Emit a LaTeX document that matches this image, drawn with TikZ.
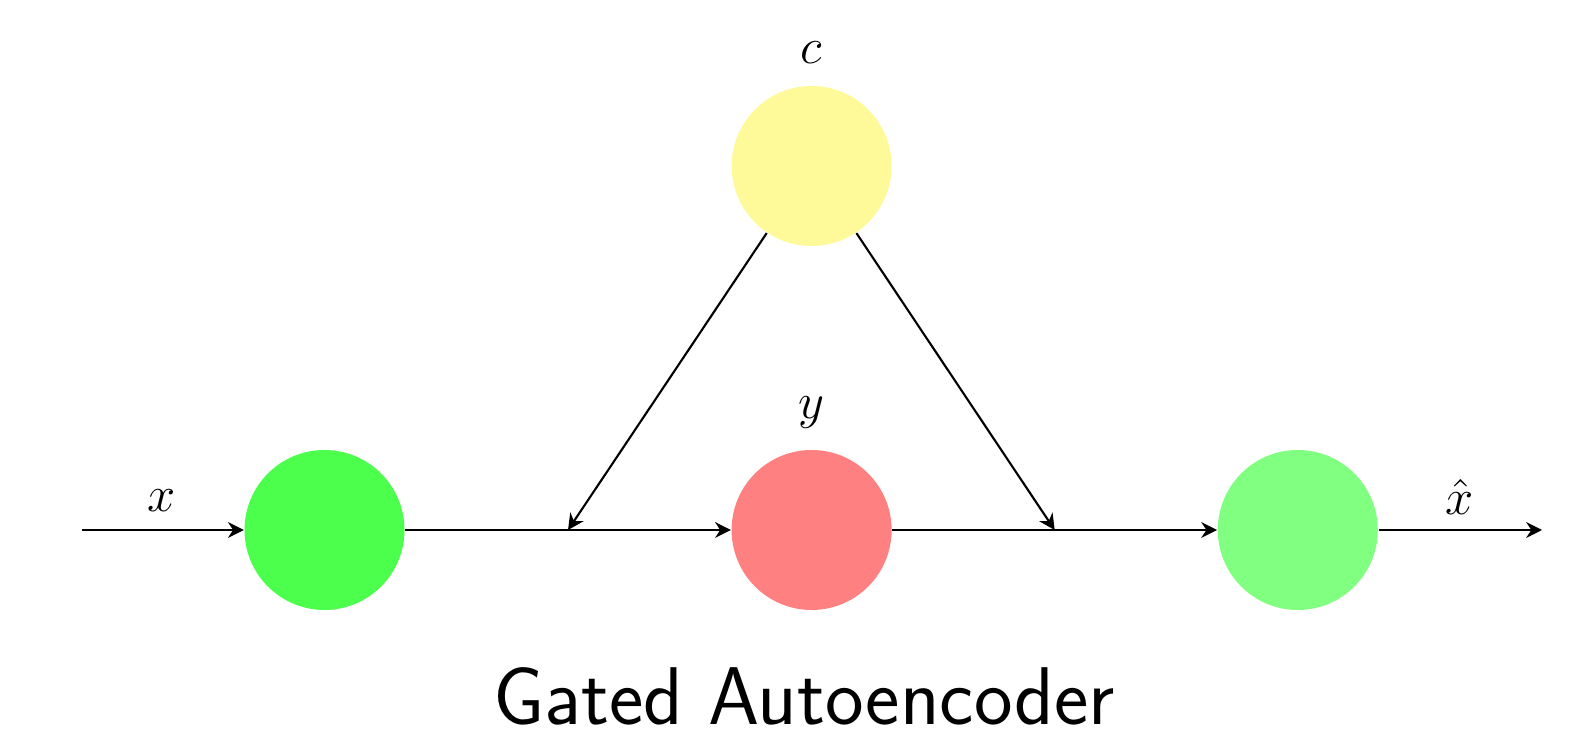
\documentclass[tikz,border=0pt]{standalone}
\usepackage{amsmath}
\usetikzlibrary{arrows.meta,calc}

\tikzset{
  unit/.style={circle,minimum size=1.6cm,inner sep=0pt},
  flow/.style={semithick,-{Stealth[length=4.5pt,width=4.5pt]}},
  lbl/.style={font=\Large}
}

\begin{document}
\begin{tikzpicture}
  \useasboundingbox (0,0) rectangle (15.75,7.30);
  % the four units
  \node[unit,fill=green!70] (inp) at (3.245,2.0) {};
  \node[unit,fill=red!50] (hid) at (8.116,2.0) {};
  \node[unit,fill=green!50] (out) at (12.978,2.0) {};
  \node[unit,fill=yellow!40] (ctx) at (8.116,5.64) {};
  % labels
  \node[lbl] (lx) at (1.62,2.29) {$x$};
  \node[lbl] (ly) at (8.116,3.17) {$y$};
  \node[lbl] (lc) at (8.116,6.77) {$c$};
  \node[lbl] (lxh) at (14.60,2.33) {$\hat{x}$};
  % ends and gates
  \coordinate (start) at (0.82,2.0);
  \coordinate (stop) at (15.42,2.0);
  \coordinate (g1) at ($(inp.east)!0.5!(hid.west)$);
  \coordinate (g2) at ($(hid.east)!0.5!(out.west)$);
  \draw[flow] (start) -- (inp);
  \draw[flow] (inp) -- (hid);
  \draw[flow] (hid) -- (out);
  \draw[flow] (out) -- (stop);
  \draw[flow] (ctx) -- (g1);
  \draw[flow] (ctx) -- (g2);
  \node[font=\sffamily\fontsize{23.3}{28}\selectfont,anchor=base] (title) at (8.04,0.05) {Gated Autoencoder};
\end{tikzpicture}
\end{document}
